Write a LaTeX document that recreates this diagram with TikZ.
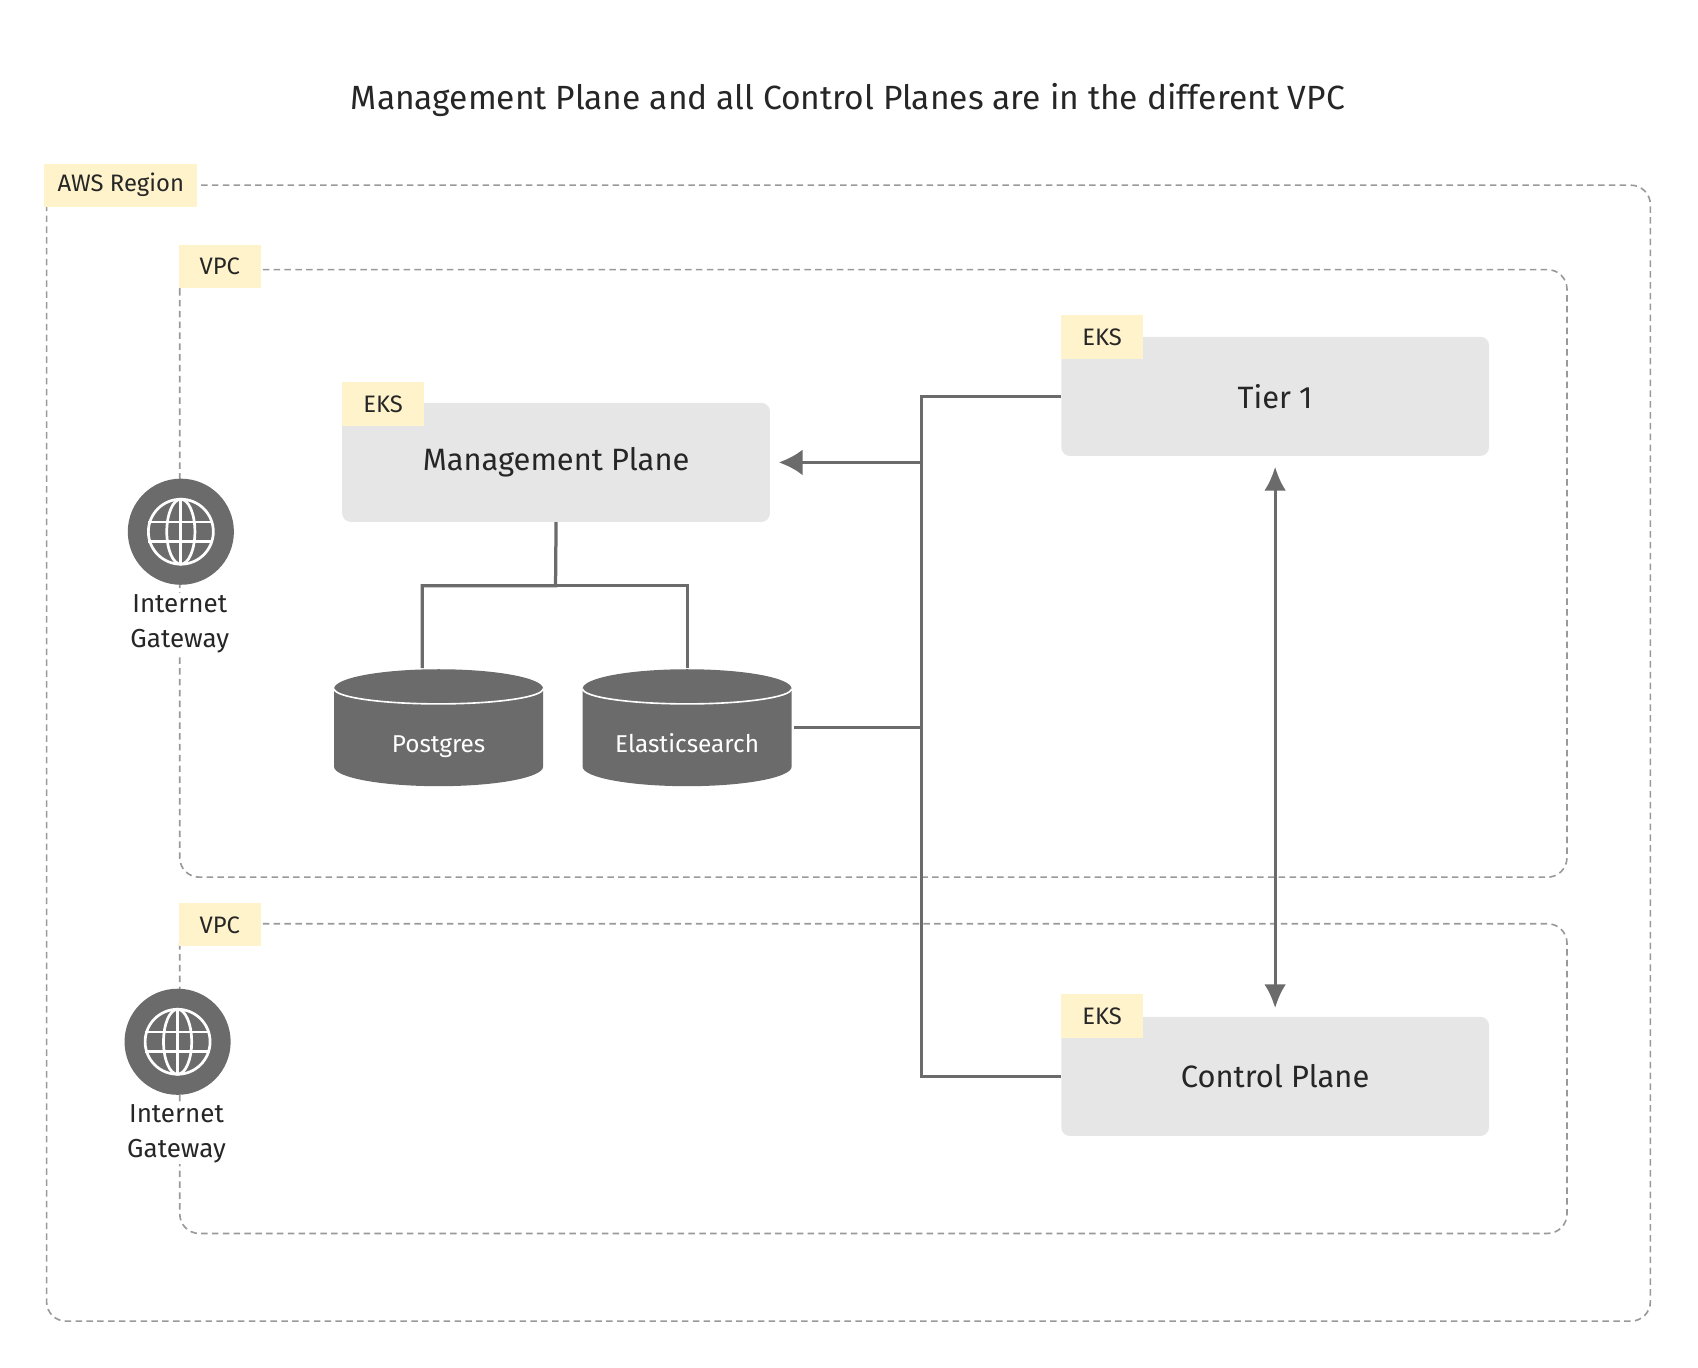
\documentclass[tikz,border=0pt]{standalone}
\usepackage{fontspec}
\setmainfont{Fira Sans}[Scale=1]
\usetikzlibrary{arrows.meta,shapes.geometric}
\definecolor{ln}{HTML}{6B6B6B}
\definecolor{tag}{HTML}{FFF3CC}
\definecolor{bx}{HTML}{E6E6E6}
\definecolor{dsh}{HTML}{999999}
\begin{document}
\begin{tikzpicture}[x=1pt,y=-1pt,
  region/.style={draw=dsh,line width=1.5pt,dash pattern=on 6pt off 4pt,rounded corners=18pt},
  tagn/.style={fill=tag,inner sep=0pt,font=\fontsize{22}{24}\selectfont,text=black!85},
  box/.style={fill=bx,rounded corners=8pt,inner sep=0pt,font=\fontsize{28.5}{30}\selectfont,text=black!85},
  conn/.style={draw=ln,line width=3pt},
  gw/.style={font=\fontsize{24}{33}\selectfont,align=center,fill=white,inner sep=1pt,text=black!85}]
\useasboundingbox (0,0) rectangle (1568,1263);
\node[font=\fontsize{31}{34}\selectfont,text=black!85] (title) at (783,92) {Management Plane and all Control Planes are in the different VPC};
% region and VPCs
\draw[region] (43,171) rectangle (1524,1220);
\node[tagn,minimum width=141pt,minimum height=40pt] (aws) at (111.5,171) {AWS Region};
\draw[region] (166,249) rectangle (1447,810);
\node[tagn,minimum width=76pt,minimum height=40pt] (vpc1) at (203,246) {VPC};
\draw[region] (166,853) rectangle (1447,1139);
\node[tagn,minimum width=76pt,minimum height=40pt] (vpc2) at (203,854) {VPC};
% gateways
\foreach \n/\cx/\cy in {g1/167/491,g2/164/962}{
  \node[circle,fill=ln,minimum size=98pt,inner sep=0pt] (\n) at (\cx,\cy) {};
  \begin{scope}[shift={(\cx,\cy)}]
    \draw[white,line width=2.5pt] (0,0) circle (30);
    \draw[white,line width=2.5pt] (0,0) ellipse (13 and 30);
    \draw[white,line width=2.5pt] (0,-30) -- (0,30);
    \draw[white,line width=2.5pt] (-30,-9) -- (30,-9) (-30,9) -- (30,9);
  \end{scope}
}
\node[gw] (gl1) at (166,576) {Internet\\Gateway};
\node[gw] (gl2) at (163,1047) {Internet\\Gateway};
% EKS boxes
\node[box,minimum width=395pt,minimum height=110pt] (mp) at (513.5,427) {Management Plane};
\node[tagn,minimum width=75pt,minimum height=40pt,anchor=north west] (e1) at (316,353) {EKS};
\node[box,minimum width=395pt,minimum height=110pt] (t1) at (1177.5,366) {Tier 1};
\node[tagn,minimum width=75pt,minimum height=40pt,anchor=north west] (e2) at (980,291) {EKS};
\node[box,minimum width=395pt,minimum height=110pt] (cp) at (1177.5,994) {Control Plane};
\node[tagn,minimum width=75pt,minimum height=40pt,anchor=north west] (e3) at (980,918) {EKS};
% cylinders
\foreach \n/\cx/\t in {pg/405/Postgres,es/634.5/Elasticsearch}{
  \fill[ln] (\cx-96.5,636) -- (\cx-96.5,708) arc[start angle=180,end angle=360,x radius=96.5,y radius=-18] -- (\cx+96.5,636) arc[start angle=0,end angle=180,x radius=96.5,y radius=-18] -- cycle;
  \draw[white,line width=1.5pt] (\cx-96.5,636) arc[start angle=180,end angle=360,x radius=96.5,y radius=-14];
  \node[font=\fontsize{22.5}{24}\selectfont,text=white,anchor=base] (\n) at (\cx,695) {\t};
}
\coordinate (pgt) at (390,617);
\coordinate (est) at (635,617);
% connectors
\draw[conn] (mp.south) -- (513,541) -| (pgt);
\draw[conn] (513,541) -| (est);
\coordinate (tr1) at (851,366);
\coordinate (tr2) at (851,994);
\coordinate (esr) at (733,672);
\coordinate (trm) at (851,672);
\draw[conn] (t1.west) -- (tr1) -- (tr2) -- (cp.west);
\draw[conn] (esr) -- (trm);
\draw[conn,-{Latex[length=22pt,width=24pt]},shorten >=8pt] (851,427) -- (mp.east);
\draw[conn,{Latex[length=22pt,width=20pt]}-{Latex[length=22pt,width=20pt]}] (t1.south |- 0,431) -- (cp.north |- 0,931);
\end{tikzpicture}
\end{document}
